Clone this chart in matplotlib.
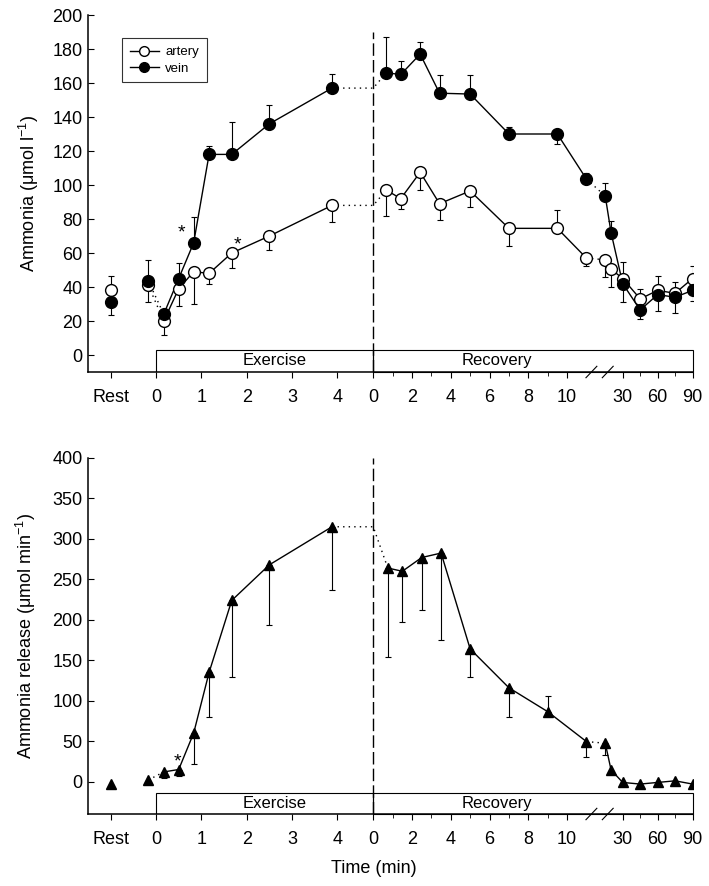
import numpy as np
import matplotlib.pyplot as plt
from matplotlib.patches import Rectangle

plt.rcParams['font.family'] = ['Liberation Sans', 'DejaVu Sans']

# położenie na osi x: Rest, wysiłek (min), odpoczynek (min), późny odpoczynek (min)
REST_X, PRE_T = -1.0, -0.17
REC0, REC_K = 4.79, 0.4273
LATE0, LATE_K = 10.29, 0.02567
XMIN, XMAX = -1.50, 11.84

def rec_x(t):
    return REC0 + REC_K * np.asarray(t, float)

def late_x(t):
    return LATE0 + LATE_K * (np.asarray(t, float) - 30)

ex_t = [0.17, 0.5, 0.83, 1.17, 1.67, 2.5, 3.88]
rec_t_top = [0.67, 1.42, 2.42, 3.42, 5, 7, 9.5, 11]
rec_t_bot = [0.75, 1.5, 2.5, 3.5, 5, 7, 9, 11]
late_t = [15, 20, 30, 45, 60, 75, 90]

# arteria (µmol/l); błąd ze znakiem: + w górę, - w dół
art_rest, art_rest_err = 38, 8.5
art_pre, art_pre_err = 41, -10
art_ex = [20, 39, 49, 48, 60, 70, 88]
art_ex_err = [-8, -10, -19, -6, -9, -8, -10]
art_rec = [97, 92, 107.5, 89, 96.5, 74.5, 74.5, 57]
art_rec_err = [-15, -6, -10.5, -9.5, -9.5, -10.5, 10.5, -4.5]
art_late = [56, 50.5, 45, 33, 38, 36.3, 45]
art_late_err = [-10, -10.5, -13.6, 6, 8.5, 6.7, 7.5]

# żyła
vein_rest, vein_rest_err = 31, -7.5
vein_pre, vein_pre_err = 43.6, 12
vein_ex = [24, 45, 66, 118, 118, 136, 157]
vein_ex_err = [0, 9, 15, 5, 19, 11, 8]
vein_rec = [166, 165, 177, 154, 153.5, 130, 130, 103.5]
vein_rec_err = [21, 8, 7, 10.5, 11, 4, -6, 3.5]
vein_late = [93.5, 72, 42, 26.5, 35.5, 34, 38]
vein_late_err = [7.5, 7, 13, -5.5, -9.5, -9, -6]

# uwalnianie amoniaku (µmol/min)
rel_rest, rel_rest_err = -3, 0
rel_pre, rel_pre_err = 2, 0
rel_ex = [12, 15, 60, 135, 224, 268, 315]
rel_ex_err = [-8, -8, -38, -55, -95, -75, -78]
rel_rec = [264, 260, 277, 282.5, 164, 116, 86.5, 49.5]
rel_rec_err = [-110, -63, -65, -107.5, -35, -36, 19.5, -19.5]
rel_late = [47.5, 14.5, -1, -3, -1, 1, -3]
rel_late_err = [-14.5, 0, 0, 0, 0, 0, 0]


def errbars(ax, x, y, e):
    x = np.atleast_1d(np.asarray(x, float))
    y = np.atleast_1d(np.asarray(y, float))
    e = np.atleast_1d(np.asarray(e, float))
    lo = np.where(e < 0, -e, 0)
    up = np.where(e > 0, e, 0)
    m = e != 0
    if m.any():
        ax.errorbar(x[m], y[m], yerr=[lo[m], up[m]], fmt='none', ecolor='black',
                    elinewidth=0.8, capsize=2.5, capthick=0.8, zorder=2)


def series(ax, rest, pre, ex, rec, late, errs, rec_t, mk, mfc, ms):
    xe = np.asarray(ex_t, float)
    xr = rec_x(rec_t)
    xl = late_x(late_t)
    kw = dict(color='black', lw=1.0, zorder=3)
    dot = dict(color='black', lw=1.0, ls=(0, (1, 3)), zorder=3)
    ax.plot([PRE_T, xe[0]], [pre, ex[0]], **dot)
    ax.plot(xe, ex, **kw)
    ax.plot([xe[-1], REC0, xr[0]], [ex[-1], ex[-1], rec[0]], **dot)
    ax.plot(xr, rec, **kw)
    ax.plot([xr[-1], xl[0]], [rec[-1], late[0]], **dot)
    ax.plot(xl, late, **kw)
    allx = np.concatenate([[REST_X, PRE_T], xe, xr, xl])
    ally = np.concatenate([[rest, pre], ex, rec, late])
    alle = np.concatenate([[errs[0], errs[1]], errs[2], errs[3], errs[4]])
    errbars(ax, allx, ally, alle)
    ax.plot(allx, ally, ls='none', marker=mk, ms=ms, mfc=mfc, mec='black',
            mew=1.0, zorder=4)


def setup_axis(ax, ylim, yticks, box_top, dash_top, ylabel, ylab_x):
    ax.set_xlim(XMIN, XMAX)
    ax.set_ylim(*ylim)
    ax.spines['top'].set_visible(False)
    ax.spines['right'].set_visible(False)
    for s in ('left', 'bottom'):
        ax.spines[s].set_linewidth(1.1)
    ax.set_yticks(yticks)
    ax.tick_params(axis='y', direction='in', length=4, width=0.8, labelsize=13, pad=4)
    major = np.concatenate([[REST_X, 0, 1, 2, 3, 4],
                            rec_x([0, 2, 4, 6, 8, 10]), late_x([30, 60, 90])])
    labels = ['Rest', '0', '1', '2', '3', '4', '0', '2', '4', '6', '8', '10',
              '30', '60', '90']
    ax.set_xticks(major)
    ax.set_xticklabels(labels)
    ax.set_xticks(np.concatenate([rec_x([1, 3, 5, 7, 9]), late_x([45, 75])]), minor=True)
    ax.tick_params(axis='x', which='major', direction='out', length=4, width=0.8,
                   labelsize=13, pad=8)
    ax.tick_params(axis='x', which='minor', direction='out', length=3, width=0.6)
    # pola Exercise / Recovery
    y0 = ylim[0]
    ax.add_patch(Rectangle((0, y0), REC0, box_top - y0, fill=False, lw=0.8,
                           ec='black', zorder=1))
    ax.add_patch(Rectangle((REC0, y0), XMAX - REC0, box_top - y0, fill=False,
                           lw=0.8, ec='black', zorder=1, clip_on=False))
    ymid = (y0 + box_top) / 2
    ax.text(2.62, ymid, 'Exercise', ha='center', va='center', fontsize=12)
    ax.text(rec_x(6.4), ymid, 'Recovery', ha='center', va='center', fontsize=12)
    ax.plot([REC0, REC0], [y0, dash_top], color='black', lw=1.0,
            ls=(0, (9, 3)), zorder=2)
    # przerwa na osi
    tr = ax.get_xaxis_transform()
    for xb in (9.6, 9.96):
        ax.plot([xb - 0.12, xb + 0.12], [-0.016, 0.016], color='black', lw=0.8,
                transform=tr, clip_on=False, zorder=5)
    ax.set_ylabel(ylabel, fontsize=13)
    ax.yaxis.set_label_coords(ylab_x, 0.5)


fig = plt.figure(figsize=(7.09, 8.86), dpi=100)
ax1 = fig.add_axes([88 / 709, 1 - 372 / 886, 605 / 709, 357 / 886])
ax2 = fig.add_axes([88 / 709, 1 - 814 / 886, 605 / 709, 356 / 886])

setup_axis(ax1, (-10, 200), np.arange(0, 201, 20), 3, 190,
           r'Ammonia ($\mathregular{\mu}$mol l$^{\mathregular{-1}}$)', -0.078)
series(ax1, art_rest, art_pre, art_ex, art_rec, art_late,
       [art_rest_err, art_pre_err, art_ex_err, art_rec_err, art_late_err],
       rec_t_top, 'o', 'white', 8.5)
series(ax1, vein_rest, vein_pre, vein_ex, vein_rec, vein_late,
       [vein_rest_err, vein_pre_err, vein_ex_err, vein_rec_err, vein_late_err],
       rec_t_top, 'o', 'black', 8.5)
ax1.text(0.57, 72, '*', ha='center', va='center', fontsize=14)
ax1.text(1.8, 65, '*', ha='center', va='center', fontsize=14)

h1, = ax1.plot([], [], color='black', lw=1.0, marker='o', ms=7, mfc='white', mec='black')
h2, = ax1.plot([], [], color='black', lw=1.0, marker='o', ms=7, mfc='black', mec='black')
leg = ax1.legend([h1, h2], ['artery', 'vein'], loc='upper left',
                 bbox_to_anchor=(0.056, 0.935), borderaxespad=0, fontsize=9.5,
                 frameon=True, fancybox=False, edgecolor='black', handlelength=2.2,
                 borderpad=0.6, labelspacing=0.3, handletextpad=0.5)
leg.get_frame().set_linewidth(0.8)

setup_axis(ax2, (-40, 400), np.arange(0, 401, 50), -14, 400,
           r'Ammonia release ($\mathregular{\mu}$mol min$^{\mathregular{-1}}$)', -0.083)
series(ax2, rel_rest, rel_pre, rel_ex, rel_rec, rel_late,
       [rel_rest_err, rel_pre_err, rel_ex_err, rel_rec_err, rel_late_err],
       rec_t_bot, '^', 'black', 7)
ax2.text(0.48, 24, '*', ha='center', va='center', fontsize=14)
ax2.set_xlabel('Time (min)', fontsize=13)
ax2.xaxis.set_label_coords((374 - 88) / 605, -0.13)

fig.savefig('out.png', dpi=100)
